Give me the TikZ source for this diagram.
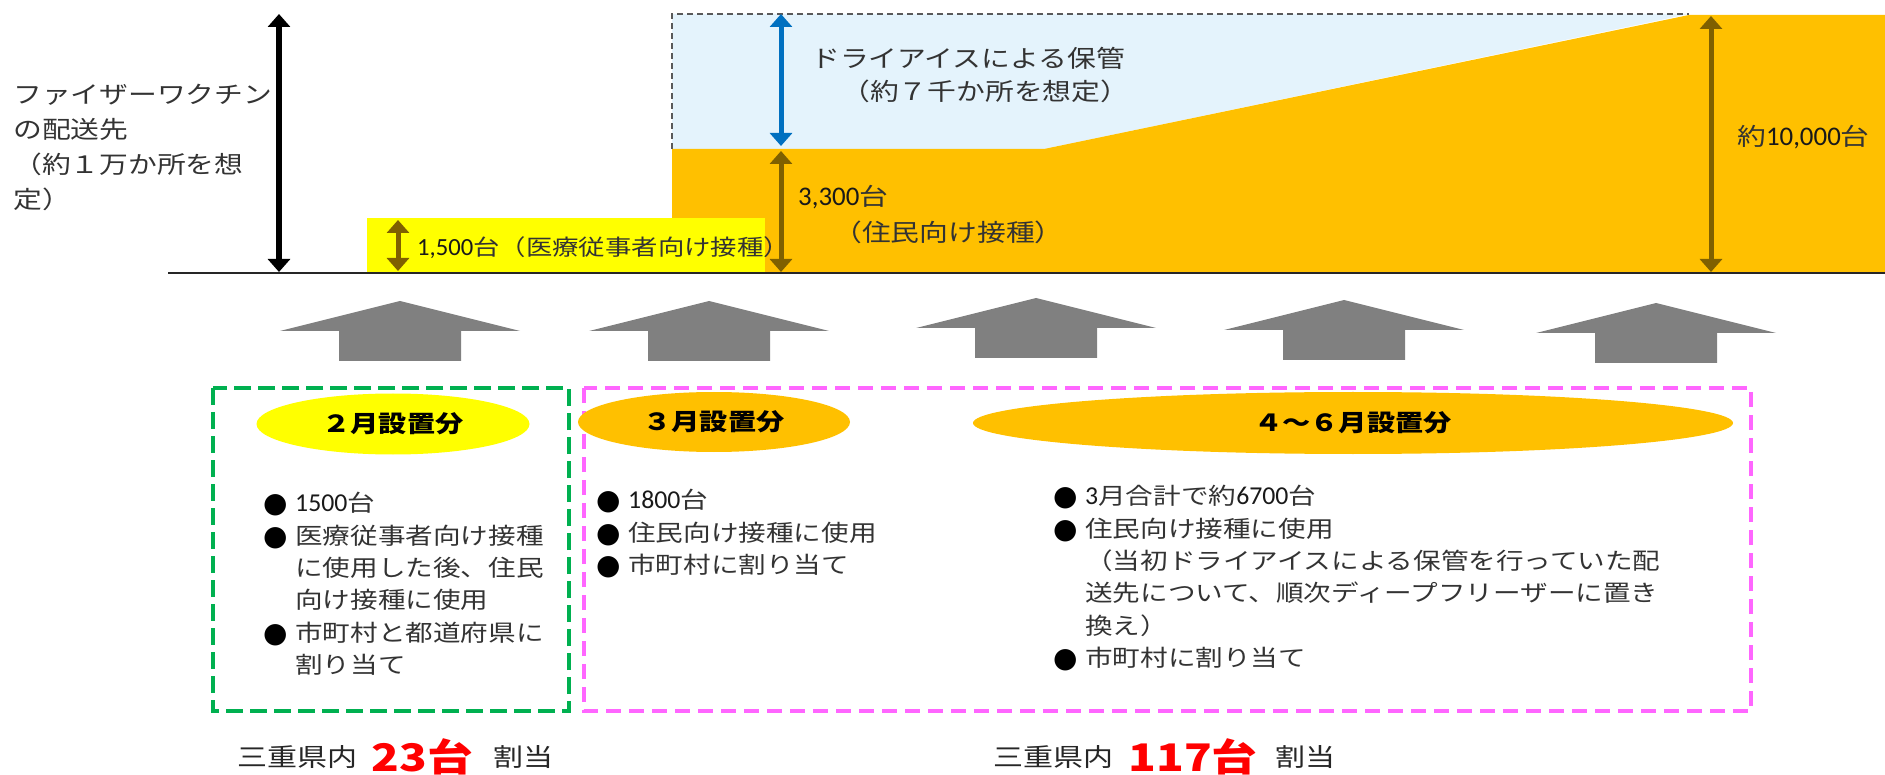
\documentclass[tikz,border=0pt]{standalone}
\usepackage{fontspec}
\usetikzlibrary{arrows.meta,shapes.geometric,calc}
\setmainfont{Noto Sans CJK JP}[FakeStretch=1.2]
\newfontfamily\latf{Carlito}[Scale=1.12]
\newcommand\lat{\latf\color{black!90}}
\newfontfamily\sym{DejaVu Sans}
\definecolor{orng}{HTML}{FFC000}
\definecolor{yel}{HTML}{FFFF00}
\definecolor{ltblue}{HTML}{E4F3FC}
\definecolor{olive}{HTML}{7F6000}
\definecolor{blue}{HTML}{0070C0}
\definecolor{arrgray}{HTML}{808080}
\definecolor{dashgray}{HTML}{595959}
\definecolor{grn}{HTML}{00B050}
\definecolor{mag}{HTML}{FF66FF}
\definecolor{tgray}{HTML}{333333}
\definecolor{redtxt}{HTML}{FF0000}
\newcommand\blt{\makebox[32pt][l]{\sym\color{black}\fontsize{28}{28}\selectfont\raisebox{-1pt}{●}}}
\begin{document}
\begin{tikzpicture}[x=1pt,y=-1pt,
  txt/.style={inner sep=0pt, text=tgray, font=\fontsize{24}{35}\selectfont, anchor=west},
  lst/.style={inner sep=0pt, text=tgray, font=\fontsize{23}{32.4}\selectfont, align=left, anchor=north west},
  oval/.style={ellipse, inner sep=0pt, font=\bfseries\fontsize{23.5}{24}\selectfont, text=black},
  dbl/.style={{Triangle[width=22pt,length=13pt]}-{Triangle[width=22pt,length=13pt]}, line width=5pt},
  upar/.style={fill=arrgray},
  lab/.style={inner sep=0pt, text=black!85, font=\fontsize{25}{25}\selectfont, anchor=west},
  num/.style={inner sep=0pt, text=redtxt, font=\bfseries\fontsize{38}{38}\selectfont, anchor=west},
]
\useasboundingbox (0,0) rectangle (1885,775);
% chart areas
\fill[ltblue] (672,14) -- (1689,14) -- (1044,149) -- (672,149) -- cycle;
\fill[orng] (672,149) -- (1044,149) -- (1689,15) -- (1885,15) -- (1885,273) -- (672,273) -- cycle;
\draw[dashgray, line width=1.8pt, dash pattern=on 6pt off 4pt] (672,149) -- (672,14) -- (1689,14);
\fill[yel] (367,218) rectangle (765,273);
\draw[line width=1.6pt, black!85] (168,273) -- (1885,273);
% measurement arrows
\coordinate (bT) at (279,14);   \coordinate (bB) at (279,272);
\coordinate (sT) at (398,220);  \coordinate (sB) at (398,271);
\coordinate (uT) at (781,14);   \coordinate (uB) at (781,146);
\coordinate (mT) at (781,151);  \coordinate (mB) at (781,272);
\coordinate (rT) at (1711,16);  \coordinate (rB) at (1711,272);
\draw[dbl, black, line width=6pt] (bT) -- (bB);
\draw[dbl, olive] (sT) -- (sB);
\draw[dbl, blue] (uT) -- (uB);
\draw[dbl, olive] (mT) -- (mB);
\draw[dbl, olive] (rT) -- (rB);
% chart texts
\node[txt, align=left, anchor=north west] (dest) at (13,84)
  {ファイザーワクチン\\の配送先\\（約１万か所を想\\定）};
\node[txt] (dry1) at (811,58) {ドライアイスによる保管};
\node[txt] (dry2) at (841,91) {（約７千か所を想定）};
\node[txt] (res1) at (798,197) {{\lat 3,300}台};
\node[txt] (res2) at (833,232) {（住民向け接種）};
\node[txt] (tot) at (1737,137) {約{\lat 10,000}台};
\node[txt, font=\fontsize{22}{22}\selectfont] (med) at (417,248) {{\lat 1,500}台（医療従事者向け接種）};
% up arrows
\foreach \cx/\ty in {400/301, 709/301, 1036/298, 1344/300, 1656/303}{
  \fill[upar] (\cx,\ty) -- (\cx+120,\ty+30) -- (\cx+61,\ty+30) -- (\cx+61,\ty+60)
     -- (\cx-61,\ty+60) -- (\cx-61,\ty+30) -- (\cx-120,\ty+30) -- cycle;
}
% boxes
\draw[grn, line width=4pt, dash pattern=on 17pt off 7pt] (213,388) rectangle (569,711);
\draw[mag, line width=4pt, dash pattern=on 15pt off 8pt] (584,388) rectangle (1751,711);
\node[oval, fill=yel, minimum width=273pt, minimum height=61pt] (feb) at (393,424) {２月設置分};
\node[oval, fill=orng, minimum width=272pt, minimum height=60pt] (mar) at (714,422) {３月設置分};
\node[oval, fill=orng, minimum width=760pt, minimum height=62pt] (aprjun) at (1353,423) {４～６月設置分};
% lists
\node[lst] (lA) at (263,492) {\blt{\lat 1500}台\\
  \blt 医療従事者向け接種\\
  \hspace*{32pt}に使用した後、住民\\
  \hspace*{32pt}向け接種に使用\\
  \blt 市町村と都道府県に\\
  \hspace*{32pt}割り当て};
\node[lst] (lB) at (596,489) {\blt{\lat 1800}台\\
  \blt 住民向け接種に使用\\
  \blt 市町村に割り当て};
\node[lst] (lC) at (1053,485) {\blt{\lat 3}月合計で約{\lat 6700}台\\
  \blt 住民向け接種に使用\\
  \hspace*{32pt}（当初ドライアイスによる保管を行っていた配\\
  \hspace*{32pt}送先について、順次ディープフリーザーに置き\\
  \hspace*{32pt}換え）\\
  \blt 市町村に割り当て};
% bottom labels
\node[lab] (l1) at (237,757) {三重県内};
\node[num] (n1) at ($(l1.east)+(14,0)$) {23台};
\node[lab] (a1) at ($(n1.east)+(20,0)$) {割当};
\node[lab] (l2) at (993,757) {三重県内};
\node[num] (n2) at ($(l2.east)+(15,0)$) {117台};
\node[lab] (a2) at ($(n2.east)+(18,0)$) {割当};
\end{tikzpicture}
\end{document}
